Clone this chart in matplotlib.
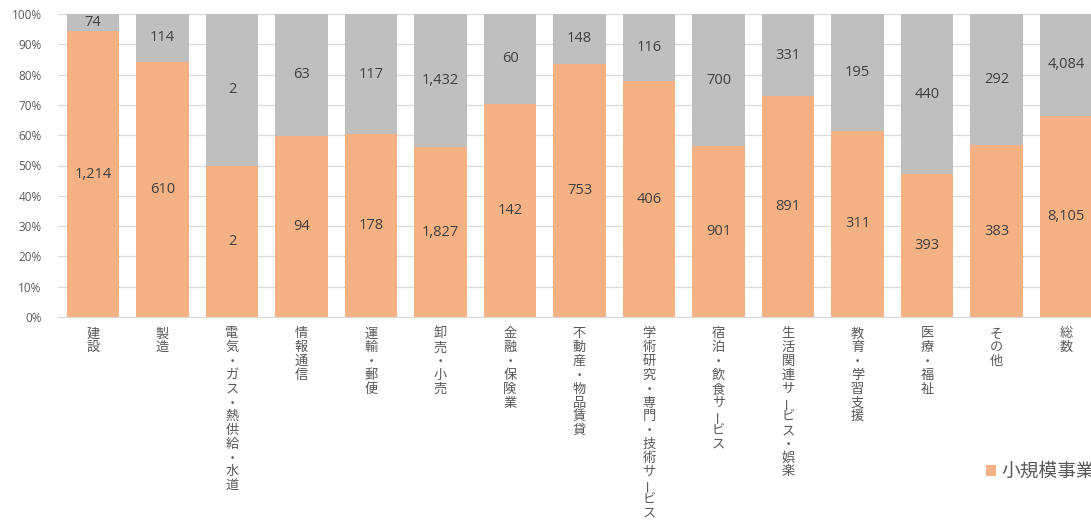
"""
100% stacked bar chart of establishment counts by industry (small vs other).
"""

import numpy as np
import matplotlib
matplotlib.use("Agg")
import matplotlib.pyplot as plt
from matplotlib.ticker import PercentFormatter

plt.rcParams["font.family"] = ["Noto Sans CJK JP", "DejaVu Sans"]

industries = [
    "建設", "製造", "電気・ガス・熱供給・水道", "情報通信", "運輸・郵便",
    "卸売・小売", "金融・保険業", "不動産・物品賃貸", "学術研究・専門・技術サービス",
    "宿泊・飲食サービス", "生活関連サービス・娯楽", "教育・学習支援", "医療・福祉",
    "その他", "総数",
]
small = [1214, 610, 2, 94, 178, 1827, 142, 753, 406, 901, 891, 311, 393, 383, 8105]
other = [74, 114, 2, 63, 117, 1432, 60, 148, 116, 700, 331, 195, 440, 292, 4084]
legend_small = "小規模事業者"

ORANGE = "#F4B183"
GRAY = "#BFBFBF"
TEXT = "#595959"
LABEL = "#404040"
NUM_FONT = ["Open Sans", "DejaVu Sans"]

small_a = np.array(small, dtype=float)
other_a = np.array(other, dtype=float)
total = small_a + other_a
p_small = small_a / total
p_other = other_a / total

W, H = 1091, 523
fig = plt.figure(figsize=(W / 100, H / 100), dpi=100)
ax = fig.add_axes([58.25 / W, 206 / H, 1042.5 / W, 303 / H])

x = np.arange(len(industries))
b1 = ax.bar(x, p_small, width=0.755, color=ORANGE, label=legend_small, zorder=2)
b2 = ax.bar(x, p_other, width=0.755, bottom=p_small, color=GRAY, zorder=2)

for i in x:
    ax.text(i, p_small[i] / 2, f"{small[i]:,}", ha="center", va="center",
            fontsize=10.5, color=LABEL, family=NUM_FONT, zorder=3)
    ax.text(i, p_small[i] + p_other[i] / 2, f"{other[i]:,}", ha="center",
            va="center", fontsize=10.5, color=LABEL, family=NUM_FONT, zorder=3)

ax.set_xlim(-0.5, len(industries) - 0.5)
ax.set_ylim(0, 1)
ax.set_yticks(np.arange(0, 1.01, 0.1))
ax.yaxis.set_major_formatter(PercentFormatter(1.0, decimals=0))
ax.tick_params(axis="y", length=0, pad=12, labelsize=8.5, labelcolor=TEXT)
for t in ax.get_yticklabels():
    t.set_family(NUM_FONT)
ax.set_xticks([])
ax.grid(axis="y", color="#D9D9D9", linewidth=0.9, zorder=0)
for side in ["left", "right", "top"]:
    ax.spines[side].set_visible(False)
ax.spines["bottom"].set_color("#D9D9D9")

# vertical (top-to-bottom) category labels, one character per line
step = 13.8
for i, name in enumerate(industries):
    for k, ch in enumerate(name):
        ax.annotate(ch, xy=(i, 0), xycoords=("data", "axes fraction"),
                    xytext=(0, -(17 + k * step)), textcoords="offset pixels",
                    ha="center", va="center", fontsize=9.5, color=TEXT,
                    rotation=90 if ch == "ー" else 0, rotation_mode="anchor",
                    annotation_clip=False)

fig.legend(handles=[b1], labels=[legend_small], loc="upper left",
           bbox_to_anchor=(969 / W, 1 - 444 / H), frameon=False,
           fontsize=13.5, handlelength=0.55, handleheight=0.55,
           handletextpad=0.3, labelcolor=TEXT)

fig.savefig("out.png", dpi=100)
